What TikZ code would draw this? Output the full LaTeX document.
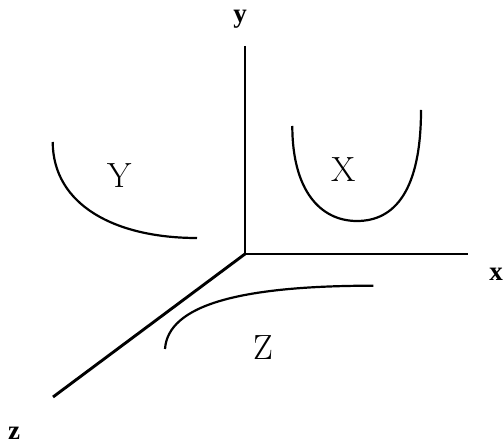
\documentclass[tikz,border=0pt]{standalone}
\usepackage{fontspec}
\newfontfamily\axisfont{Liberation Serif}
\begin{document}
\begin{tikzpicture}[x=1pt,y=-1pt,
  axisline/.style={line width=2.9pt},
  curveline/.style={line width=2.2pt},
  axislabel/.style={inner sep=0pt,font=\axisfont\bfseries\fontsize{27}{27}\selectfont},
  curvelabel/.style={inner sep=0pt,font=\fontsize{35}{35}\selectfont}]
\useasboundingbox (0,0) rectangle (503,443);
% axes
\coordinate (O) at (245,254);
\coordinate (Yend) at (245,46);
\coordinate (Xend) at (468,254);
\coordinate (Zend) at (53,397);
\draw[axisline] (Yend) -- (O) -- (Xend);
\draw[axisline] (O) -- (Zend);
\node[axislabel] (ylab) at (240,19) {y};
\node[axislabel] (xlab) at (496,274) {x};
\node[axislabel] (zlab) at (14,433) {z};
% curve Y
\coordinate (Ya) at (52.7,142);
\coordinate (Yb) at (197,238);
\draw[curveline] (Ya) .. controls (53,205) and (115,238) .. (Yb);
\node[curvelabel] (Ylab) at (119.5,176) {Y};
% curve X
\coordinate (Xa) at (292.3,126);
\coordinate (Xm) at (357,221);
\coordinate (Xb) at (421,110);
\draw[curveline] (Xa) .. controls (292.3,190) and (320,221) .. (Xm)
  .. controls (395,221) and (421,190) .. (Xb);
\node[curvelabel] (Xlab) at (343.7,170) {X};
% curve Z
\coordinate (Za) at (165,349);
\coordinate (Zb) at (373.3,285.7);
\draw[curveline] (Za) .. controls (168,305) and (240,285.7) .. (Zb);
\node[curvelabel] (Zlab) at (263,348) {Z};
\end{tikzpicture}
\end{document}
